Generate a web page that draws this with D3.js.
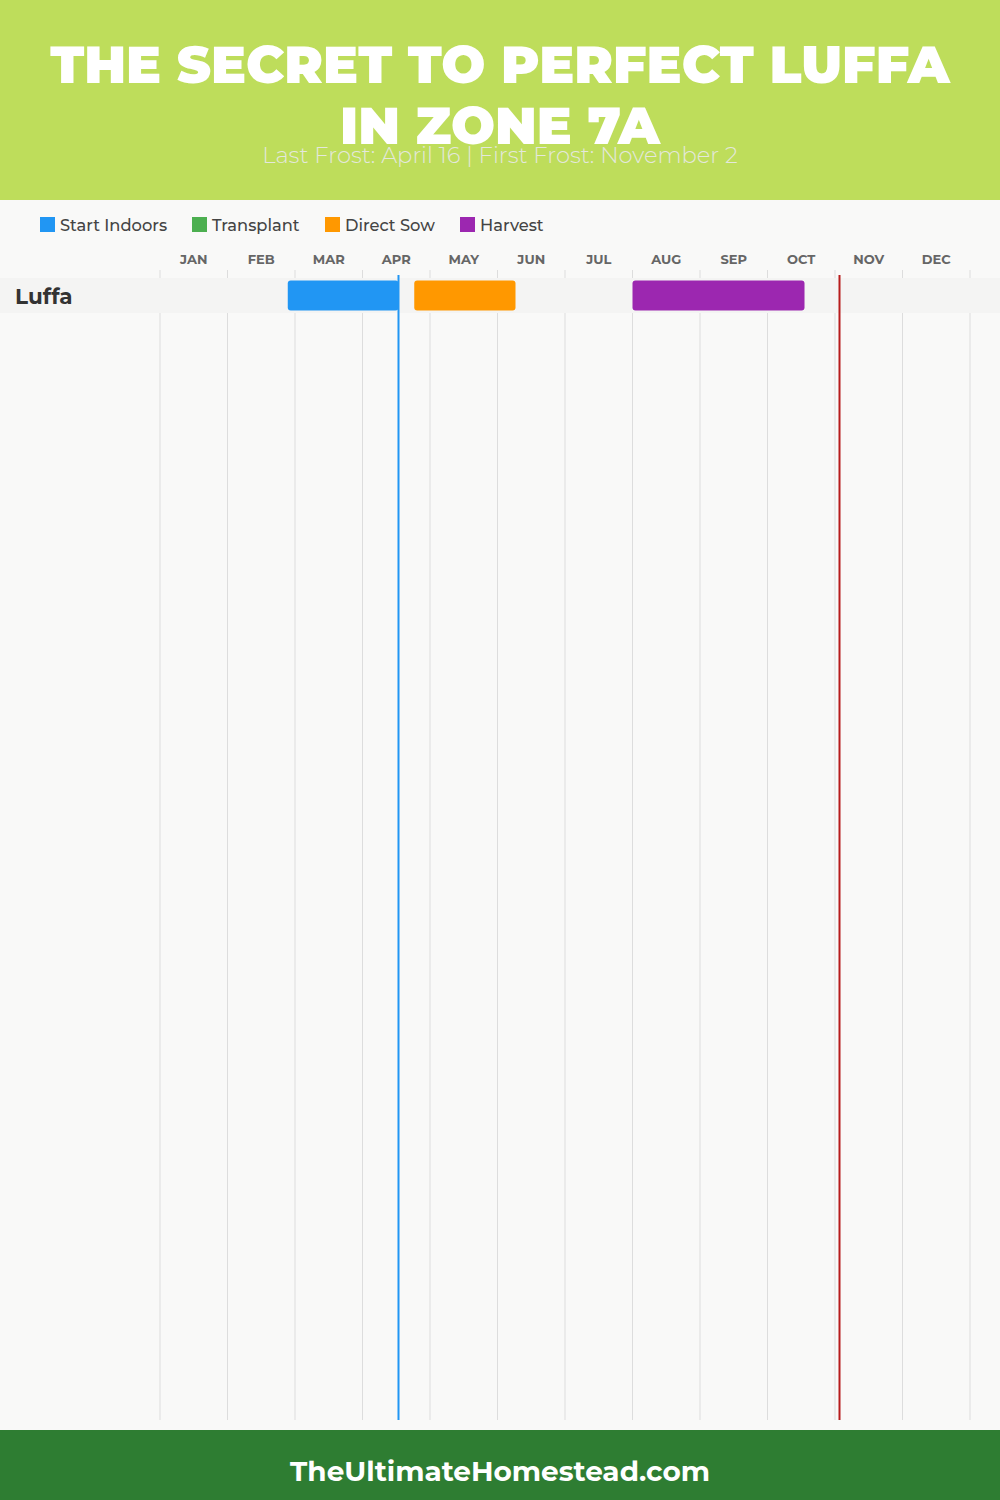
<!DOCTYPE html>
<html><head><meta charset="utf-8">
<script src="https://cdn.jsdelivr.net/npm/d3@7"></script>
<style>html,body{margin:0;padding:0;background:#f9f9f8;}svg{display:block;}</style>
</head><body>
<svg id="chart" width="1000" height="1500"></svg>
<script>
// ---- data ----
const titleLines = ["THE SECRET TO PERFECT LUFFA", "IN ZONE 7A"];
const subtitle = "Last Frost: April 16 | First Frost: November 2";
const footerText = "TheUltimateHomestead.com";
const months = ["JAN","FEB","MAR","APR","MAY","JUN","JUL","AUG","SEP","OCT","NOV","DEC"];
const monthDays = [31,28,31,30,31,30,31,31,30,31,30,31];
const legendNames = ["Start Indoors","Transplant","Direct Sow","Harvest"];
const legendColors = ["#2196f3","#4caf50","#ff9800","#9c27b0"];
const crops = ["Luffa"];
const taskCrop  = ["Luffa","Luffa","Luffa"];
const taskType  = ["Start Indoors","Direct Sow","Harvest"];
const taskStart = [[2,25],[4,23],[7,31]];   // [month, day]
const taskEnd   = [[4,16],[6,8],[10,17]];
const lastFrost = [4,16];
const firstFrost = [11,2];

// ---- layout ----
const svg = d3.select("#chart");
const W = 1000, H = 1500;
const headerH = 200, footerY = 1430;
const fontTitle = "Montserrat, Inter, 'Noto Sans', sans-serif";

svg.append("rect").attr("x",0).attr("y",0).attr("width",W).attr("height",H).attr("fill","#f9f9f8");
svg.append("rect").attr("x",0).attr("y",0).attr("width",W).attr("height",headerH).attr("fill","#bedd5b");
svg.append("rect").attr("x",0).attr("y",footerY).attr("width",W).attr("height",H-footerY).attr("fill","#2e7d32");

function fitText(sel, target){
  const len = sel.node().getComputedTextLength();
  const fs = parseFloat(sel.attr("font-size"));
  sel.attr("font-size", fs * target / len);
}

// title
const titleY = [64, 125];
const titleWidths = [900, 320];
titleLines.forEach((t,i)=>{
  const tx = svg.append("text").attr("x",W/2).attr("y",titleY[i]).attr("text-anchor","middle")
    .attr("dominant-baseline","central").attr("font-family",fontTitle).attr("font-weight",900)
    .attr("font-size",52).attr("fill","#ffffff").text(t);
  fitText(tx, titleWidths[i]);
});
const sub = svg.append("text").attr("x",W/2).attr("y",155).attr("text-anchor","middle")
  .attr("dominant-baseline","central").attr("font-family",fontTitle).attr("font-weight",300)
  .attr("font-size",20).attr("fill","#e4e8dc").text(subtitle);
fitText(sub, 476);

// legend
const legendX = [40,192,325,460];
legendNames.forEach((n,i)=>{
  const g = svg.append("g").attr("transform",`translate(${legendX[i]},217)`);
  g.append("rect").attr("width",15).attr("height",15).attr("fill",legendColors[i]);
  g.append("text").attr("x",20).attr("y",8).attr("dominant-baseline","central")
    .attr("font-family",fontTitle).attr("font-weight",500).attr("font-size",16.3)
    .attr("fill","#444").text(n);
});

// scales
const x = d3.scaleLinear().domain([0,12]).range([160,970]);
const pos = md => (md[0]-1) + md[1]/monthDays[md[0]-1];
const color = d3.scaleOrdinal().domain(legendNames).range(legendColors);
const rowTop = 278, rowH = 35;
const y = d3.scaleBand().domain(crops).range([rowTop, rowTop + rowH*crops.length]);

// month labels
svg.append("g").selectAll("text").data(months).join("text")
  .attr("x",(d,i)=>x(i+0.5)).attr("y",259).attr("text-anchor","middle")
  .attr("dominant-baseline","central").attr("font-family",fontTitle).attr("font-weight",700)
  .attr("font-size",13).attr("fill","#666").text(d=>d);

// grid
svg.append("g").selectAll("line").data(d3.range(13)).join("line")
  .attr("x1",d=>x(d)).attr("x2",d=>x(d)).attr("y1",270).attr("y2",1420)
  .attr("stroke","#dddddd").attr("stroke-width",1);

// row bands
svg.append("g").selectAll("rect").data(crops).join("rect")
  .attr("x",0).attr("width",W).attr("y",d=>y(d)).attr("height",y.bandwidth())
  .attr("fill","#f4f4f3");

// row labels
svg.append("g").selectAll("text").data(crops).join("text")
  .attr("x",15).attr("y",d=>y(d)+y.bandwidth()/2).attr("dominant-baseline","central")
  .attr("font-family",fontTitle).attr("font-weight",700).attr("font-size",21.5)
  .attr("fill","#333").text(d=>d);

// bars
const tasks = taskType.map((t,i)=>({crop:taskCrop[i], type:t, s:pos(taskStart[i]), e:pos(taskEnd[i])}));
svg.append("g").selectAll("rect").data(tasks).join("rect")
  .attr("x",d=>x(d.s)).attr("width",d=>x(d.e)-x(d.s))
  .attr("y",d=>y(d.crop)+2.5).attr("height",30).attr("rx",3)
  .attr("fill",d=>color(d.type));

// frost lines
svg.append("line").attr("x1",x(pos(lastFrost))).attr("x2",x(pos(lastFrost)))
  .attr("y1",275).attr("y2",1420).attr("stroke","#2196f3").attr("stroke-width",2);
svg.append("line").attr("x1",x(pos(firstFrost))).attr("x2",x(pos(firstFrost)))
  .attr("y1",275).attr("y2",1420).attr("stroke","#b71c1c").attr("stroke-width",2);

// footer
const ft = svg.append("text").attr("x",W/2).attr("y",1471).attr("text-anchor","middle")
  .attr("dominant-baseline","central").attr("font-family",fontTitle).attr("font-weight",700)
  .attr("font-size",28).attr("fill","#ffffff").text(footerText);
fitText(ft, 420);
</script>
</body></html>
